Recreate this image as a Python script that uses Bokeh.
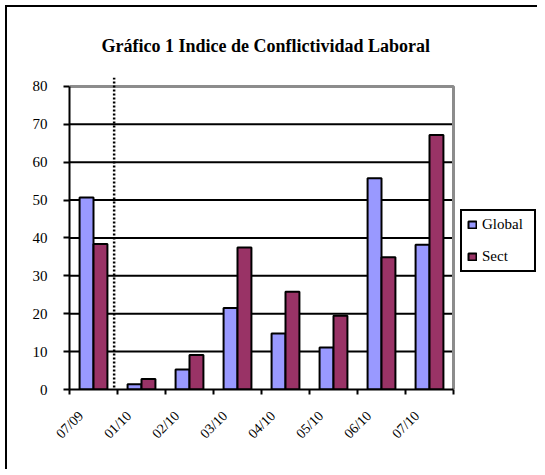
import numpy as np
from bokeh.plotting import figure
from bokeh.models import (ColumnDataSource, Range1d, FixedTicker, LinearAxis, Span,
                          Legend, LegendItem, CustomJSTickFormatter)
from bokeh.transform import dodge
from bokeh.embed import file_html
from bokeh.resources import INLINE

# ---- data ----
categories = ["07/09", "01/10", "02/10", "03/10", "04/10", "05/10", "06/10", "07/10"]
global_vals = [50.7, 1.4, 5.3, 21.5, 14.8, 11.1, 55.8, 38.2]
sect_vals = [38.4, 2.8, 9.1, 37.5, 25.8, 19.5, 34.9, 67.2]
y_ticks = [0, 10, 20, 30, 40, 50, 60, 70, 80]
title_text = "Gráfico 1 Indice de Conflictividad Laboral"
series_names = ["Global", "Sect"]

FONT = "Liberation Serif"
n = len(categories)
ymax = y_ticks[-1]
src = ColumnDataSource(dict(x=np.arange(n) + 0.5, g=global_vals, s=sect_vals))

# plot area proper is 384 x 303.5 px; the frame is wider/taller to host the legend
PW, PH = 384, 303.5
FW, FH = 467, 312.5
p = figure(frame_width=FW, frame_height=int(FH), output_backend="svg", toolbar_location=None,
           x_range=Range1d(0, n * FW / PW), y_range=Range1d(0, ymax * FH / PH),
           x_axis_type=None,
           min_border_left=62, min_border_top=70, min_border_bottom=80, min_border_right=1,
           background_fill_color="white", border_fill_color="white")
p.styles = {"border-top": "2px solid black", "border-left": "2px solid black",
            "margin-left": "5px", "margin-top": "5px"}
p.outline_line_color = None

p.title.text = title_text
p.title.text_font = FONT
p.title.text_font_style = "bold"
p.title.text_font_size = "18px"
p.title.text_color = "black"
p.title.align = "left"
p.title.standoff = 44
p.title.offset = 32

# y axis
yax = p.yaxis[0]
yax.ticker = FixedTicker(ticks=y_ticks)
yax.bounds = (0, ymax)
yax.axis_line_color = "black"
yax.axis_line_width = 2
yax.major_tick_line_color = "black"
yax.major_tick_line_width = 2
yax.major_tick_in = 0
yax.major_tick_out = 6
yax.minor_tick_line_color = None
yax.major_label_text_font = FONT
yax.major_label_text_font_size = "15px"
yax.major_label_text_color = "black"
yax.major_label_standoff = 16

# x axis: labels near centers, tick marks at boundaries (minor ticks)
xax = LinearAxis(ticker=FixedTicker(ticks=list(np.arange(n) + 0.24),
                                    minor_ticks=list(range(n + 1))))
xax.bounds = (0, n)
xax.formatter = CustomJSTickFormatter(args=dict(labels=categories),
                                      code="return labels[Math.floor(tick)] || '';")
xax.axis_line_color = "black"
xax.axis_line_width = 2
xax.major_tick_line_color = None
xax.minor_tick_line_color = "black"
xax.minor_tick_line_width = 2
xax.minor_tick_in = 0
xax.minor_tick_out = 5
xax.major_label_orientation = np.pi / 4
xax.major_label_text_font = FONT
xax.major_label_text_font_size = "14px"
xax.major_label_text_color = "black"
xax.major_label_standoff = 18
p.add_layout(xax, "below")

p.xgrid.visible = False
p.ygrid.visible = False

# horizontal grid lines limited to the plot area
gy = y_ticks[1:-1]
p.segment(x0=[0] * len(gy), x1=[n] * len(gy), y0=gy, y1=gy,
          line_color="black", line_width=2, level="underlay")
# gray plot-area border (top and right)
p.line(x=[0, n, n], y=[ymax, ymax, 0], line_color="#8c8c8c", line_width=3)

w = 0.29
rg = p.vbar(x=dodge("x", -w / 2, range=p.x_range), top="g", width=w, source=src,
            fill_color="#9999FF", line_color="black", line_width=2)
rs = p.vbar(x=dodge("x", w / 2, range=p.x_range), top="s", width=w, source=src,
            fill_color="#993366", line_color="black", line_width=2)

sep = Span(location=0.93, dimension="height", line_color="black", line_width=2.5,
           line_dash="2 2")
p.add_layout(sep)

legend = Legend(items=[LegendItem(label=series_names[0], renderers=[rg]),
                       LegendItem(label=series_names[1], renderers=[rs])],
                location=(PW + 7, 117), orientation="vertical")
legend.label_text_font = FONT
legend.label_text_font_size = "15px"
legend.label_text_color = "black"
legend.glyph_width = 10
legend.glyph_height = 9
legend.label_standoff = 5
legend.label_height = 15
legend.label_width = 47
legend.spacing = 15
legend.padding = 5
legend.margin = 0
legend.border_line_color = "black"
legend.border_line_alpha = 1
legend.border_line_width = 2
legend.background_fill_color = "white"
p.add_layout(legend)

open("out.html", "w").write(file_html(p, INLINE))
